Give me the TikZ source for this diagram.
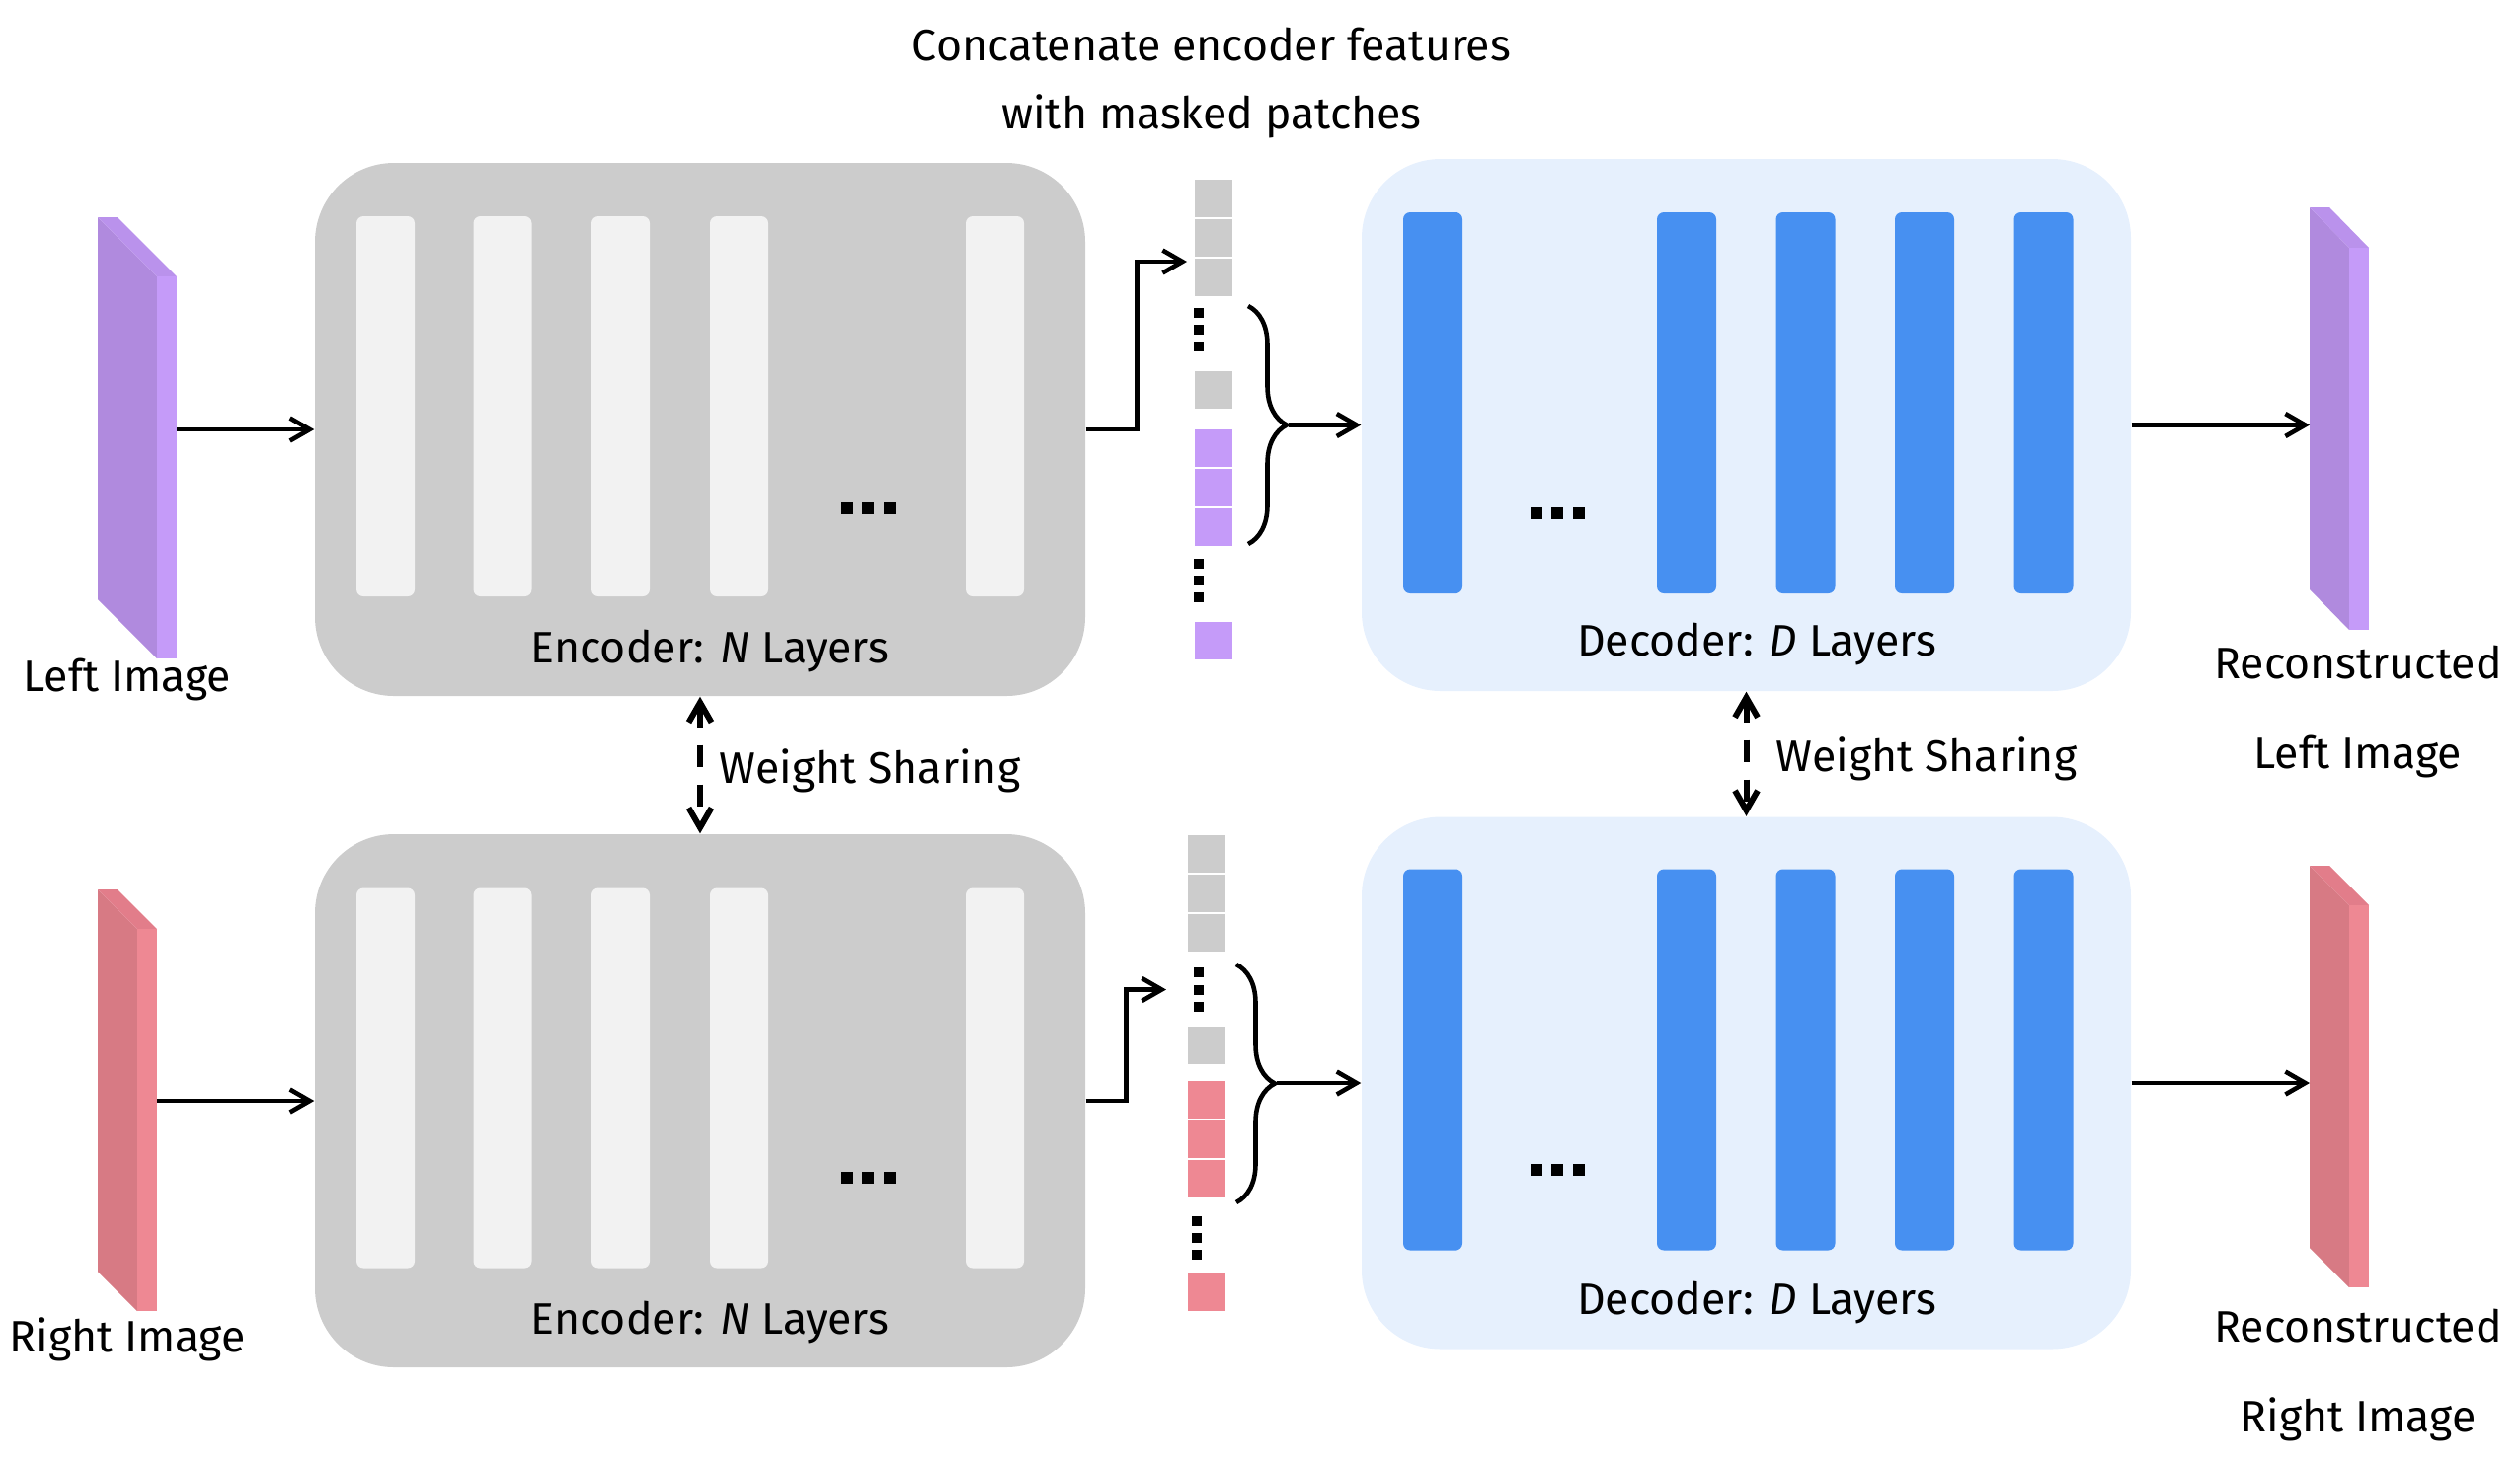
\documentclass[tikz,border=0pt]{standalone}
\usepackage{fontspec}
\setmainfont{Fira Sans}
\usetikzlibrary{arrows.meta,decorations.pathreplacing}

\definecolor{grigiocol}{HTML}{CCCCCC}
\definecolor{barragrigia}{HTML}{F2F2F2}
\definecolor{azzurrocol}{HTML}{E6F0FD}
\definecolor{barrablu}{HTML}{4790F1}
\definecolor{viola}{HTML}{C59BF9}
\definecolor{violascuro}{HTML}{B08ADE}
\definecolor{violatop}{HTML}{BA92EC}
\definecolor{rosa}{HTML}{EE8893}
\definecolor{rosascuro}{HTML}{D77A84}
\definecolor{rosatop}{HTML}{E27D8A}

% lastra 3d: x0, y0, larghezza, spessore, obliquo, altezza, colore
\newcommand{\lastra}[7]{%
  \fill[#7scuro] (#1,#2) -- ++(#3,#5) -- ++(0,{#6-#5}) -- ++(-#3,-#5) -- cycle;
  \fill[#7top] (#1,#2) -- ++(#4,0) -- ++(#3,#5) -- ++(-#4,0) -- cycle;
  \fill[#7] ({#1+#3},{#2+#5}) rectangle ++(#4,{#6-#5});
}
% tre puntini orizzontali
\newcommand{\puntini}[2]{%
  \foreach \k in {-1,0,1} \fill ({#1+21.5*\k-6},{#2-6}) rectangle ++(12,12);
}
% tre puntini verticali
\newcommand{\puntinicol}[2]{%
  \foreach \k in {-1,0,1} \fill ({#1-5},{#2+17.2*\k-5}) rectangle ++(10,10);
}

\begin{document}
\begin{tikzpicture}[x=0.1mm,y=-0.1mm,
    >={Straight Barb[length=2mm,width=2.3mm]},
    freccia/.style={->,line width=1.3pt},
    condivisa/.style={<->,line width=1.7pt,dash pattern=on 2.2mm off 1.8mm},
    graffa/.style={decorate,decoration={brace,amplitude=3.9mm},line width=1.3pt},
    encbox/.style={fill=grigiocol,rounded corners=8mm,minimum width=78mm,minimum height=54mm,inner sep=0},
    decbox/.style={fill=azzurrocol,rounded corners=8mm,minimum width=77.9mm,minimum height=53.9mm,inner sep=0},
    encstrato/.style={fill=barragrigia,rounded corners=0.7mm,minimum width=5.9mm,minimum height=38.5mm,inner sep=0},
    decstrato/.style={fill=barrablu,rounded corners=0.7mm,minimum width=6mm,minimum height=38.6mm,inner sep=0},
    patch/.style={minimum size=3.8mm,inner sep=0,outer sep=0},
    lbl/.style={inner sep=0,font=\fontsize{12.7}{15}\selectfont}]
  \useasboundingbox (0,0) rectangle (2552,1484);

  % immagini di ingresso e di uscita
  \lastra{99}{220}{60}{20}{60}{447}{viola}
  \lastra{99}{901}{40}{20}{40}{427}{rosa}
  \lastra{2339}{210}{40}{20}{41}{428}{viola}
  \lastra{2339}{877}{40}{20}{40}{427}{rosa}
  \coordinate (imgL) at (179,435);
  \coordinate (imgR) at (159,1115);
  \coordinate (recL) at (2339,430.5);
  \coordinate (recR) at (2339,1097);
  \node[lbl] (tL) at (129,688) {Left Image};
  \node[lbl] (tR) at (129,1357) {Right Image};
  \node[lbl] (rL1) at (2388,671) {Reconstructed};
  \node[lbl] (rL2) at (2388,766) {Left Image};
  \node[lbl] (rR1) at (2388,1343) {Reconstructed};
  \node[lbl] (rR2) at (2388,1438) {Right Image};

  % encoder
  \node[encbox] (enc1) at (709,435) {};
  \node[encbox] (enc2) at (709,1115) {};
  \foreach \i/\x in {1/390.5,2/509,3/628.5,4/748.5,5/1007.5} {
    \node[encstrato] (eA\i) at (\x,411.5) {};
    \node[encstrato] (eB\i) at (\x,1092) {};
  }
  \puntini{879}{515}
  \puntini{879}{1193}
  \node[lbl] (encL1) at (719,659) {Encoder: \textit{N} Layers};
  \node[lbl] (encL2) at (719,1339) {Encoder: \textit{N} Layers};

  % decoder
  \node[decbox] (dec1) at (1768.5,430.5) {};
  \node[decbox] (dec2) at (1768.5,1097) {};
  \foreach \i/\x in {1/1451,2/1708,3/1828.5,4/1949,5/2069.5} {
    \node[decstrato] (dA\i) at (\x,408) {};
    \node[decstrato] (dB\i) at (\x,1073.5) {};
  }
  \puntini{1577}{520}
  \puntini{1577}{1185}
  \node[lbl] (decL1) at (1779,652) {Decoder: \textit{D} Layers};
  \node[lbl] (decL2) at (1779,1319) {Decoder: \textit{D} Layers};

  % colonne di patch
  \foreach \n/\y/\c in {a/200.6/grigiocol,b/240.5/grigiocol,c/280.5/grigiocol,d/394.8/grigiocol,
                        e/454.4/viola,f/494.3/viola,g/534.3/viola,h/648.5/viola}
    \node[patch,fill=\c] (pA\n) at (1229,\y) {};
  \foreach \n/\y/\c in {a/864.7/grigiocol,b/904.7/grigiocol,c/944.6/grigiocol,d/1058.6/grigiocol,
                        e/1114.4/rosa,f/1154.4/rosa,g/1194.3/rosa,h/1308.5/rosa}
    \node[patch,fill=\c] (pB\n) at (1222,\y) {};
  \puntinicol{1214}{334}
  \puntinicol{1214}{588}
  \puntinicol{1214}{1002.5}
  \puntinicol{1212}{1254}
  \node[lbl] (conc1) at (1227,45) {Concatenate encoder features};
  \node[lbl] (conc2) at (1227,118) {with masked patches};

  % frecce
  \coordinate (inA) at (1202,265);
  \coordinate (inB) at (1181,1002.5);
  \draw[freccia] (imgL) -- (enc1.west);
  \draw[freccia] (imgR) -- (enc2.west);
  \draw[freccia] (enc1.east) -- ++(52,0) |- (inA);
  \draw[freccia] (enc2.east) -- ++(41,0) |- (inB);
  \draw[graffa] (1264,310) -- (1264,551);
  \draw[graffa] (1252,977) -- (1252,1218);
  \coordinate (gA) at (1305,430.5);
  \coordinate (gB) at (1293,1097);
  \draw[freccia] (gA) -- (dec1.west);
  \draw[freccia] (gB) -- (dec2.west);
  \draw[freccia] (dec1.east) -- (recL);
  \draw[freccia] (dec2.east) -- (recR);

  % condivisione dei pesi
  \draw[condivisa] (enc1.south) -- (enc2.north);
  \draw[condivisa] (dec1.south) -- (dec2.north);
  \node[lbl,anchor=west] (ws1) at (728,781) {Weight Sharing};
  \node[lbl,anchor=west] (ws2) at (1798,769) {Weight Sharing};
\end{tikzpicture}
\end{document}
